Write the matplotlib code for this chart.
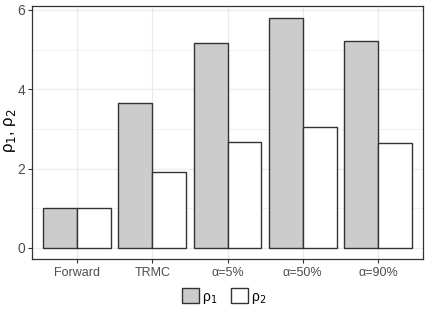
import numpy as np
import matplotlib
matplotlib.use('Agg')
import matplotlib.pyplot as plt
from matplotlib.patches import Patch

# ----- DADOS
categorias = ['Forward', 'TRMC', 'α=5%', 'α=50%', 'α=90%']
rho1 = [1.0, 3.65, 5.17, 5.81, 5.22]
rho2 = [1.0, 1.92, 2.68, 3.04, 2.64]

plt.rcParams['font.family'] = ['Liberation Sans', 'DejaVu Sans']

fig = plt.figure(figsize=(4.36, 3.12), dpi=100)
ax = fig.add_axes([32 / 436, 1 - 259 / 312, 391 / 436, 253 / 312])

x = np.arange(1, len(categorias) + 1)
w = 0.45
ax.bar(x - w / 2, rho1, width=w, color='#cccccc', edgecolor='#333333', linewidth=1.0, zorder=3)
ax.bar(x + w / 2, rho2, width=w, color='white', edgecolor='#333333', linewidth=1.0, zorder=3)

ax.set_xlim(0.4, 5.6)
ax.set_ylim(-0.28, 6.1)
ax.set_xticks(x)
ax.set_xticklabels(categorias, fontsize=9, color='#4d4d4d')
ax.set_yticks([0, 2, 4, 6])
ax.set_yticks([1, 3, 5], minor=True)
ax.tick_params(axis='y', labelsize=10, labelcolor='#4d4d4d', length=3, color='#333333', pad=2)
ax.tick_params(axis='x', length=3, color='#333333', pad=3)
ax.tick_params(which='minor', length=0)

ax.grid(which='major', color='#ebebeb', linewidth=0.9, zorder=0)
ax.grid(which='minor', axis='y', color='#ebebeb', linewidth=0.5, zorder=0)
for s in ax.spines.values():
    s.set_color('#333333')
    s.set_linewidth(0.9)

fig.text(10 / 436, 1 - 131 / 312, 'ρ$_1$, ρ$_2$', fontsize=12, rotation=90,
         ha='center', va='center')

# ----- LEGENDA
handles = [Patch(facecolor='#cccccc', edgecolor='#333333'),
           Patch(facecolor='white', edgecolor='#333333')]
fig.legend(handles, ['ρ$_1$', 'ρ$_2$'], loc='center', bbox_to_anchor=(224 / 436, 1 - 297 / 312),
           ncol=2, frameon=False, fontsize=10, handlelength=1.25, handleheight=1.25,
           handletextpad=0.2, columnspacing=1.0)

plt.savefig('out.png', dpi=100)
